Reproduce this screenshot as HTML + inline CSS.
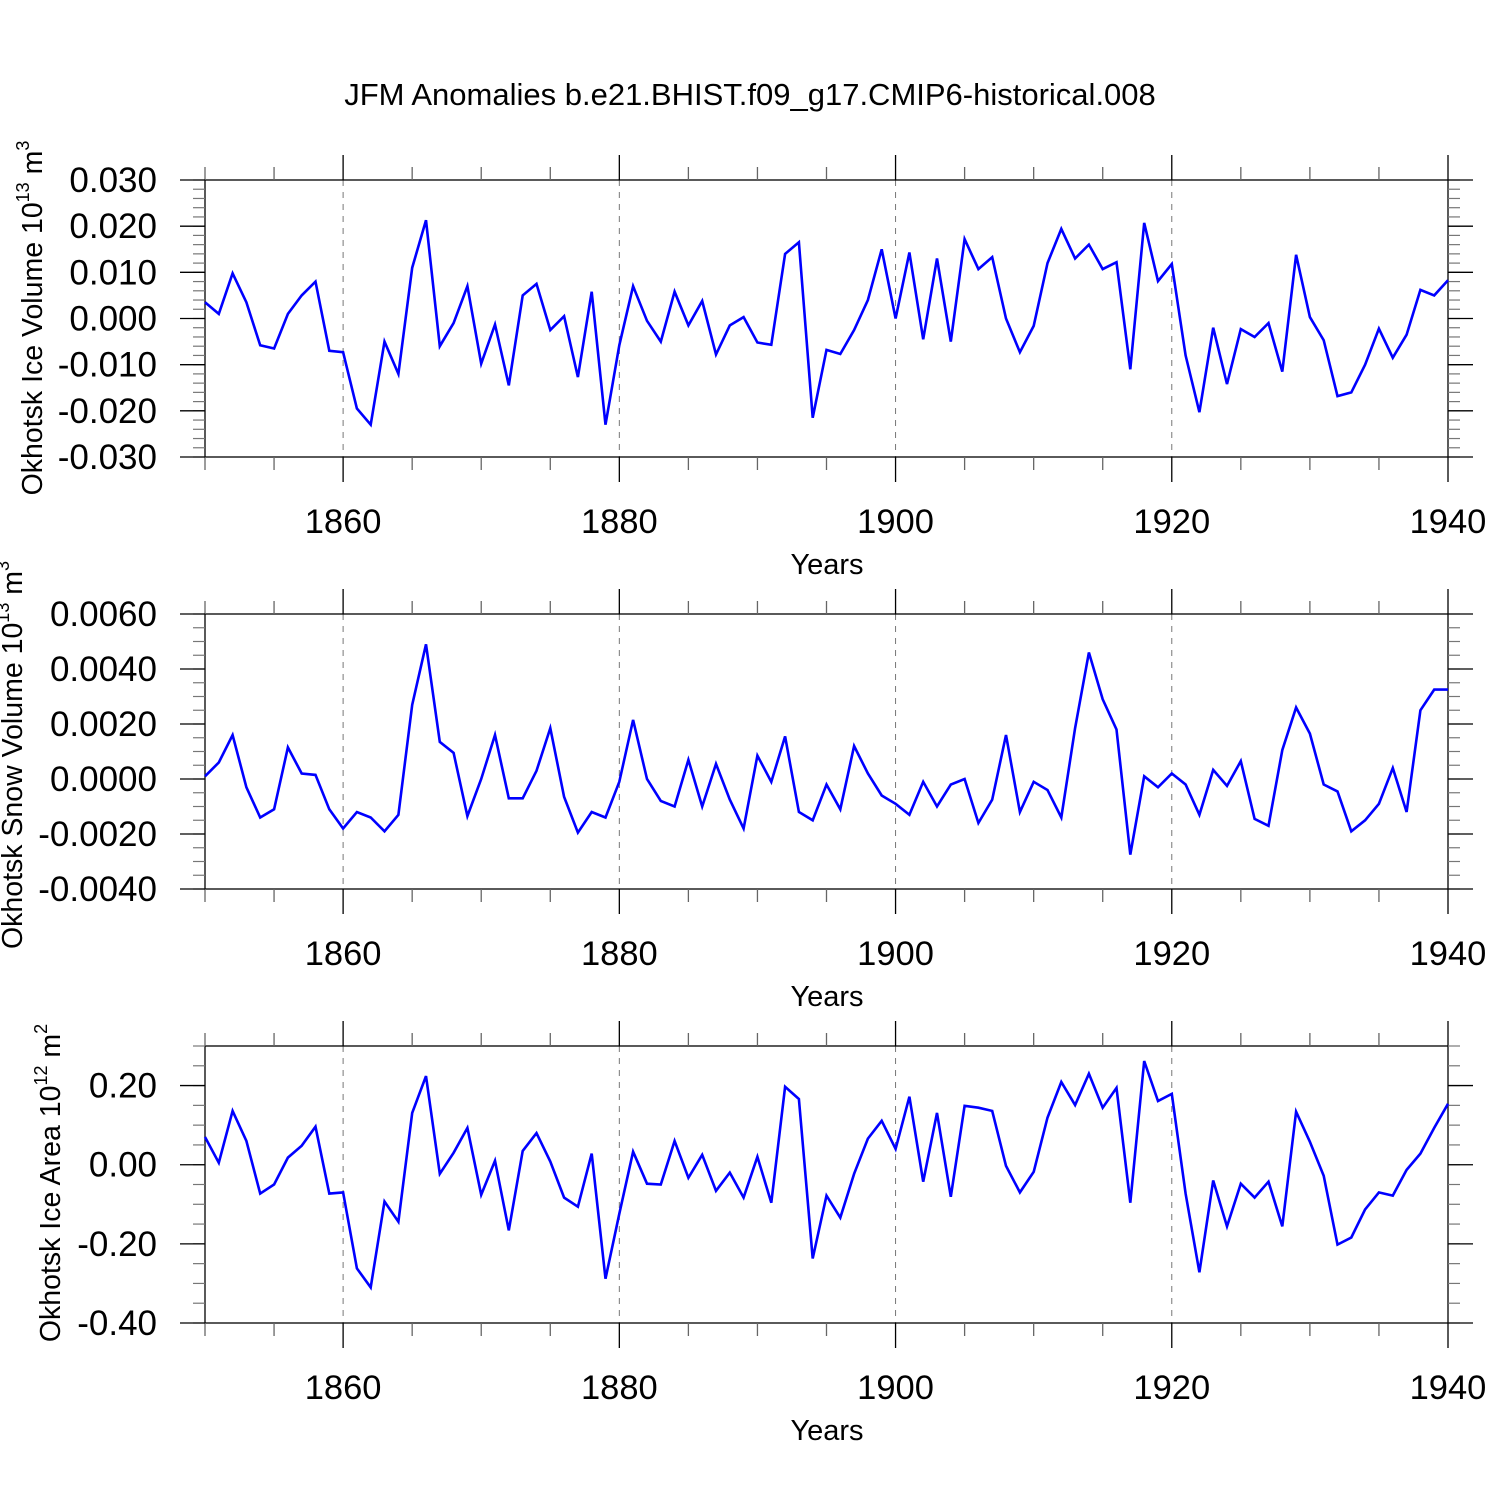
<!DOCTYPE html>
<html><head><meta charset="utf-8"><style>
html,body{margin:0;padding:0;background:#fff}
svg text{font-family:"Liberation Sans",sans-serif;fill:#000}
</style></head><body>
<svg id="chart" width="1500" height="1500" viewBox="0 0 1500 1500" xmlns="http://www.w3.org/2000/svg">
<text x="750" y="105" font-size="31" text-anchor="middle">JFM Anomalies b.e21.BHIST.f09_g17.CMIP6-historical.008</text>
</svg>
<script>
const years = [];
for (let y = 1850; y <= 1940; y++) years.push(y);
const iceVolume = [0.0035,0.001,0.0098,0.0035,-0.0058,-0.0065,0.001,0.005,0.008,-0.007,-0.0073,-0.0195,-0.023,-0.005,-0.012,0.011,0.0213,-0.006,-0.001,0.007,-0.0098,-0.0013,-0.0145,0.005,0.0075,-0.0025,0.0005,-0.0127,0.0058,-0.023,-0.0058,0.007,-0.0005,-0.005,0.0058,-0.0015,0.0038,-0.0078,-0.0015,0.0003,-0.0052,-0.0057,0.014,0.0165,-0.0215,-0.0068,-0.0077,-0.0025,0.004,0.015,0.0,0.0143,-0.0045,0.013,-0.005,0.0172,0.0107,0.0133,0.0,-0.0073,-0.0016,0.012,0.0194,0.013,0.016,0.0107,0.0122,-0.011,0.0207,0.0081,0.0118,-0.008,-0.0203,-0.002,-0.0142,-0.0023,-0.004,-0.001,-0.0115,0.0138,0.0003,-0.0047,-0.0168,-0.016,-0.01,-0.0022,-0.0085,-0.0035,0.0062,0.005,0.0083];
const snowVolume = [0.0001,0.0006,0.0016,-0.0003,-0.0014,-0.0011,0.00115,0.0002,0.00015,-0.0011,-0.0018,-0.0012,-0.0014,-0.0019,-0.0013,0.0027,0.0049,0.00135,0.00095,-0.00135,0.0,0.0016,-0.0007,-0.0007,0.0003,0.00185,-0.00065,-0.00195,-0.0012,-0.0014,-0.0001,0.00215,0.0,-0.0008,-0.001,0.0007,-0.001,0.00055,-0.00075,-0.0018,0.00085,-0.0001,0.00155,-0.0012,-0.0015,-0.0002,-0.0011,0.0012,0.0002,-0.0006,-0.0009,-0.0013,-0.0001,-0.001,-0.0002,0.0,-0.0016,-0.00075,0.0016,-0.0012,-0.0001,-0.0004,-0.0014,0.00185,0.0046,0.0029,0.0018,-0.00275,0.0001,-0.0003,0.0002,-0.0002,-0.0013,0.00033,-0.00025,0.00065,-0.00145,-0.0017,0.00105,0.0026,0.00165,-0.0002,-0.00045,-0.0019,-0.0015,-0.0009,0.0004,-0.0012,0.0025,0.00325,0.00325];
const iceArea = [0.07,0.005,0.136,0.06,-0.073,-0.05,0.018,0.048,0.096,-0.073,-0.07,-0.262,-0.31,-0.093,-0.144,0.131,0.224,-0.023,0.03,0.093,-0.076,0.01,-0.166,0.035,0.08,0.008,-0.083,-0.106,0.028,-0.288,-0.124,0.033,-0.048,-0.05,0.06,-0.033,0.025,-0.066,-0.02,-0.083,0.02,-0.096,0.197,0.166,-0.237,-0.078,-0.134,-0.023,0.066,0.111,0.04,0.172,-0.043,0.131,-0.081,0.149,0.144,0.136,-0.003,-0.07,-0.018,0.119,0.209,0.151,0.23,0.144,0.194,-0.096,0.262,0.161,0.179,-0.073,-0.272,-0.04,-0.156,-0.048,-0.083,-0.043,-0.156,0.134,0.058,-0.028,-0.202,-0.184,-0.113,-0.07,-0.078,-0.013,0.028,0.093,0.154];
const xTickLabels = ["1860","1880","1900","1920","1940"];
const iceVolTicks = ["0.030","0.020","0.010","0.000","-0.010","-0.020","-0.030"];
const snowTicks = ["0.0060","0.0040","0.0020","0.0000","-0.0020","-0.0040"];
const areaTicks = ["0.20","0.00","-0.20","-0.40"];

const NS = "http://www.w3.org/2000/svg";
const svg = document.getElementById('chart');
function mk(tag, attrs, parent) {
  const e = document.createElementNS(NS, tag);
  for (const k in attrs) e.setAttribute(k, attrs[k]);
  (parent || svg).appendChild(e);
  return e;
}
const X0 = 205, X1 = 1448, YR0 = 1850, YR1 = 1940;
function xs(yr) { return X0 + (yr - YR0) / (YR1 - YR0) * (X1 - X0); }

function panel(name, top, bot, ymin, ymax, tickVals, tickLabels, minorStep, data, titleParts, titleY) {
  const g = mk('g', {});
  
  
  const ys = v => bot - (v - ymin) / (ymax - ymin) * (bot - top);
  [1860, 1880, 1900, 1920].forEach(yr => {
    const l = mk('line', {x1: xs(yr), x2: xs(yr), y1: top, y2: bot, stroke: '#777', 'stroke-width': 1, 'stroke-dasharray': '6,6'}, g);
    
    
  });
  const fr = mk('rect', {x: X0, y: top, width: X1 - X0, height: bot - top, fill: 'none', stroke: '#000', 'stroke-width': 1.3}, g);
  
  
  for (let yr = YR0; yr <= YR1; yr += 5) {
    const major = yr % 20 === 0;
    const len = major ? 25 : 13;
    mk('line', {x1: xs(yr), x2: xs(yr), y1: top - len, y2: top, stroke: major ? '#000' : '#666', 'stroke-width': 1.3}, g);
    mk('line', {x1: xs(yr), x2: xs(yr), y1: bot, y2: bot + len, stroke: major ? '#000' : '#666', 'stroke-width': 1.3}, g);
  }
  xTickLabels.forEach(lbl => {
    const t = mk('text', {x: xs(+lbl), y: bot + 76, 'font-size': 34.5, 'text-anchor': 'middle'}, g);
    t.textContent = lbl;
    
    
  });
  const xt = mk('text', {x: 827, y: bot + 117, 'font-size': 29, 'text-anchor': 'middle'}, g);
  xt.textContent = 'Years';
  
  
  const nMin = Math.round((ymax - ymin) / minorStep);
  for (let i = 0; i <= nMin; i++) {
    const v = ymin + i * minorStep;
    const y = ys(v);
    mk('line', {x1: X0 - 12, x2: X0, y1: y, y2: y, stroke: '#777', 'stroke-width': 1.2}, g);
    mk('line', {x1: X1, x2: X1 + 12, y1: y, y2: y, stroke: '#777', 'stroke-width': 1.2}, g);
  }
  tickVals.forEach((v, i) => {
    const y = ys(v);
    mk('line', {x1: X0 - 25, x2: X0, y1: y, y2: y, stroke: '#000', 'stroke-width': 1.3}, g);
    mk('line', {x1: X1, x2: X1 + 25, y1: y, y2: y, stroke: '#000', 'stroke-width': 1.3}, g);
    const t = mk('text', {x: 157, y: y + 12, 'font-size': 35, 'text-anchor': 'end'}, g);
    t.textContent = tickLabels[i];
    
    
  });
  const yt = mk('text', {transform: `translate(${titleParts.x},${titleY}) rotate(-90)`, 'font-size': 28.5, 'text-anchor': 'middle'}, g);
  
  
  const a = mk('tspan', {}, yt); a.textContent = titleParts.main + ' 10';
  const b = mk('tspan', {dy: -13, 'font-size': 18}, yt); b.textContent = titleParts.exp;
  const c = mk('tspan', {dy: 13}, yt); c.textContent = ' ' + titleParts.unit;
  const d = mk('tspan', {dy: -13, 'font-size': 18}, yt); d.textContent = titleParts.uexp;
  const pts = data.map((v, i) => xs(years[i]).toFixed(1) + ',' + ys(v).toFixed(1)).join(' ');
  const pl = mk('polyline', {points: pts, fill: 'none', stroke: '#0000ff', 'stroke-width': 2.6, 'stroke-linejoin': 'miter'}, g);
  
  
}
panel('ice-volume', 180, 457, -0.030, 0.030, iceVolTicks.map(Number), iceVolTicks, 0.002, iceVolume,
  {x: 42, main: 'Okhotsk Ice Volume', exp: '13', unit: 'm', uexp: '3'}, 318);
panel('snow-volume', 614, 889, -0.004, 0.006, snowTicks.map(Number), snowTicks, 0.0005, snowVolume,
  {x: 22, main: 'Okhotsk Snow Volume', exp: '13', unit: 'm', uexp: '3'}, 755);
panel('ice-area', 1046, 1323, -0.40, 0.30, areaTicks.map(Number), areaTicks, 0.05, iceArea,
  {x: 60, main: 'Okhotsk Ice Area', exp: '12', unit: 'm', uexp: '2'}, 1183);
</script>
</body></html>
